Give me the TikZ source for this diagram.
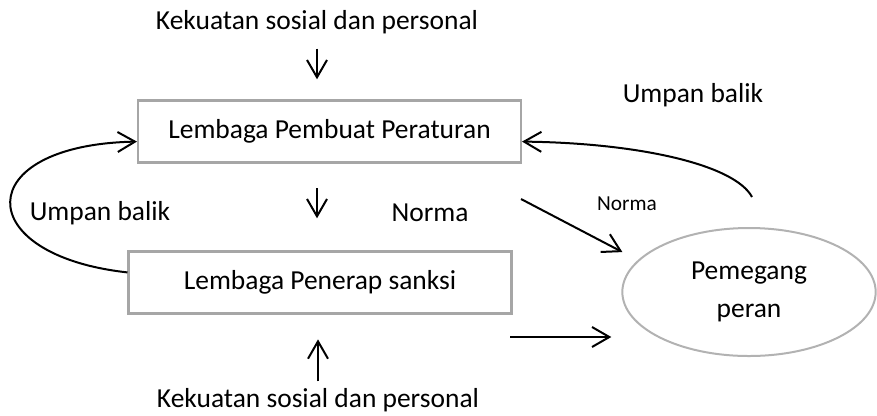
\documentclass[tikz,border=0pt]{standalone}
\usepackage{fontspec}
\setmainfont{Carlito}
\usetikzlibrary{positioning,arrows.meta,shapes.geometric}
\definecolor{boxgray}{HTML}{A6A6A6}
\definecolor{ellgray}{HTML}{B2B2B2}

\begin{document}
\begin{tikzpicture}[x=0.75pt,y=-0.75pt,
    lbl/.style={font=\fontsize{20.6}{24}\selectfont, inner sep=0pt},
    smalllbl/.style={font=\fontsize{16}{19}\selectfont, inner sep=0pt},
    box/.style={rectangle, draw=boxgray, line width=1.8pt, minimum width=287pt, minimum height=46.5pt, inner sep=0pt, font=\fontsize{20.6}{24}\selectfont},
    rolebox/.style={ellipse, draw=ellgray, line width=1.5pt, minimum width=190pt, minimum height=96pt, inner sep=0pt, align=center, font=\fontsize{20.6}{29}\selectfont},
    a/.style={-{Straight Barb[length=13pt,width=15pt]}, line width=1.5pt, black}
]
    \useasboundingbox (0,0) rectangle (877,415);
    \node[lbl] (forceTop) at (317,22)  {Kekuatan sosial dan personal};
    \node[box] (rule)     at (329.5,131.5) {Lembaga Pembuat Peraturan};
    \node[box] (sanction) at (320,282.5)   {Lembaga Penerap sanksi};
    \node[rolebox] (role) at (749,292) {Pemegang\\peran};
    \node[lbl] (forceBot) at (318,400) {Kekuatan sosial dan personal};
    \node[lbl] (fbLeft)   at (100,213) {Umpan balik};
    \node[lbl] (fbRight)  at (693,95)  {Umpan balik};
    \node[lbl] (normaBig) at (430,213) {Norma};
    \node[smalllbl] (normaSmall) at (627,204) {Norma};
    \coordinate (normaStart) at (521,199);
    \coordinate (lowStart)   at (510,337);
    \coordinate (fbStart)    at (752,197);
    \draw[a, shorten <=11pt, shorten >=15pt] (forceTop.south) -- (forceTop |- rule.north);
    \draw[a, shorten <=18.5pt, shorten >=24pt] (forceTop |- rule.south) -- (forceTop |- sanction.north);
    \draw[a, shorten <=5pt, shorten >=18.5pt] (forceBot.north) -- (forceBot |- sanction.south);
    \draw[a, shorten >=13pt] (normaStart) -- (role.164);
    \draw[a, shorten >=7.5pt] (lowStart) -- (lowStart -| role.west);
    \draw[a] (fbStart) .. controls (735,165) and (640,143) .. (rule.-3.4);
    \draw[a] (sanction.177.5) .. controls (-30,255) and (-30,145) .. (rule.183.4);
\end{tikzpicture}
\end{document}
